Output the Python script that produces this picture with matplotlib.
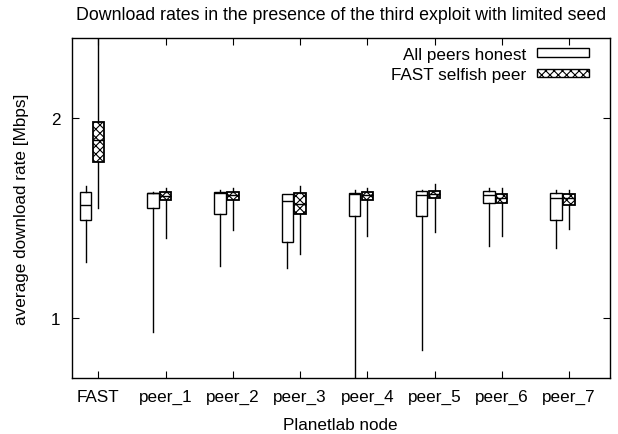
import matplotlib
matplotlib.use("Agg")
import matplotlib.pyplot as plt
from matplotlib.patches import Patch

plt.rcParams['font.family'] = ['Liberation Sans', 'DejaVu Sans']
plt.rcParams['hatch.linewidth'] = 0.8

nodes = ["FAST", "peer_1", "peer_2", "peer_3", "peer_4", "peer_5", "peer_6", "peer_7"]

# all peers honest: whisker low, q1, median, q3, whisker high
honest_lo = [1.28, 0.93, 1.26, 1.25, 0.60, 0.84, 1.36, 1.35]
honest_q1 = [1.488, 1.55, 1.52, 1.378, 1.51, 1.51, 1.577, 1.49]
honest_med = [1.567, 1.625, 1.625, 1.585, 1.62, 1.615, 1.617, 1.60]
honest_q3 = [1.628, 1.623, 1.63, 1.618, 1.625, 1.633, 1.635, 1.625]
honest_hi = [1.66, 1.63, 1.64, 1.62, 1.64, 1.64, 1.65, 1.64]

# FAST selfish peer
selfish_lo = [1.55, 1.40, 1.44, 1.32, 1.41, 1.43, 1.41, 1.445]
selfish_q1 = [1.78, 1.59, 1.59, 1.52, 1.59, 1.60, 1.577, 1.567]
selfish_med = [1.89, 1.61, 1.615, 1.57, 1.615, 1.62, 1.60, 1.60]
selfish_q3 = [1.98, 1.63, 1.63, 1.623, 1.63, 1.633, 1.62, 1.62]
selfish_hi = [2.50, 1.65, 1.65, 1.66, 1.65, 1.67, 1.65, 1.64]


def make_stats(lo, q1, med, q3, hi):
    return [dict(whislo=a, q1=b, med=c, q3=d, whishi=e, fliers=[])
            for a, b, c, d, e in zip(lo, q1, med, q3, hi)]


fs = 12.3
fig = plt.figure(figsize=(6.18, 4.35), dpi=100)
ax = fig.add_axes([0.1157, 0.1287, 0.8713, 0.7813])

xs = list(range(1, len(nodes) + 1))
line = dict(color='black', linewidth=1.0)

ax.bxp(make_stats(honest_lo, honest_q1, honest_med, honest_q3, honest_hi),
       positions=[x - 0.19 for x in xs], widths=0.17, showcaps=False,
       patch_artist=True, manage_ticks=False,
       boxprops=dict(facecolor='white', edgecolor='black', linewidth=1.0),
       medianprops=line, whiskerprops=line)

sb = ax.bxp(make_stats(selfish_lo, selfish_q1, selfish_med, selfish_q3, selfish_hi),
            positions=xs, widths=0.17, showcaps=False,
            patch_artist=True, manage_ticks=False,
            boxprops=dict(facecolor='white', edgecolor='black', linewidth=1.3),
            medianprops=line, whiskerprops=line)
for b in sb['boxes']:
    b.set_hatch('xxxx')

ax.set_xlim(0.6, 8.61)
ax.set_ylim(0.7, 2.4)
ax.set_xticks(xs)
ax.set_xticklabels(nodes)
ax.set_yticks([1, 2])
ax.tick_params(direction='in', top=True, right=True, length=5, labelsize=fs, pad=8)
for s in ax.spines.values():
    s.set_linewidth(1.0)

ax.set_title("Download rates in the presence of the third exploit with limited seed",
             fontsize=12.8, pad=14)
ax.set_xlabel("Planetlab node", fontsize=fs, labelpad=9)
ax.set_ylabel("average download rate [Mbps]", fontsize=fs, labelpad=16)

handles = [Patch(facecolor='white', edgecolor='black', linewidth=1.0),
           Patch(facecolor='white', edgecolor='black', hatch='xxxx', linewidth=1.0)]
ax.legend(handles, ["All peers honest", "FAST selfish peer"], loc='upper right',
          bbox_to_anchor=(0.961, 0.975), frameon=False, markerfirst=False,
          fontsize=fs, handlelength=3.05, handleheight=0.37, labelspacing=0.3,
          borderaxespad=0, borderpad=0, handletextpad=0.6)

fig.savefig("out.png", dpi=100)
